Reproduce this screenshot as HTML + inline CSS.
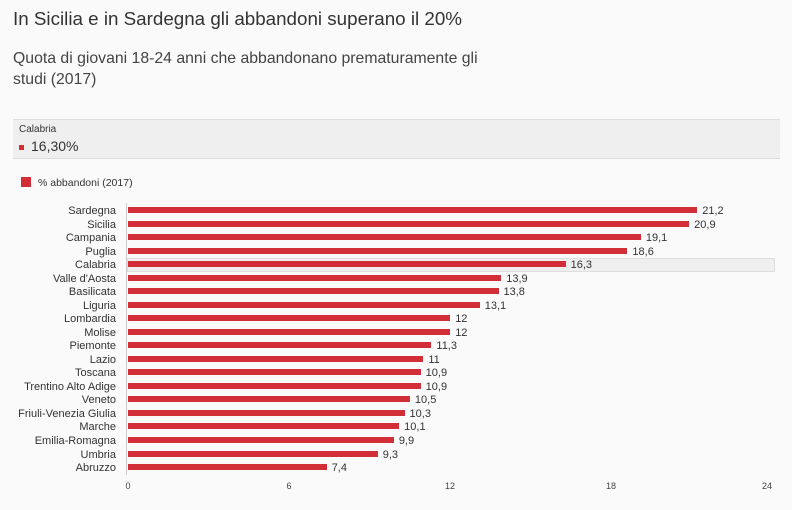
<!DOCTYPE html>
<html><head><meta charset="utf-8"><style>
body{margin:0;width:792px;height:510px;background:#fafafa;font-family:"Liberation Sans",sans-serif;position:relative;overflow:hidden;color:#333}
.t{position:absolute;left:13px;top:8px;font-size:18.8px;color:#333}
.s{position:absolute;left:13px;top:48px;font-size:15.8px;line-height:21px;color:#444;width:490px}
.tip{position:absolute;left:13px;top:119px;width:767px;height:38px;background:#efefef;border-top:1px solid #ddd;border-bottom:1px solid #ddd}
.lab{position:absolute;font-size:11px;color:#333;text-align:right;width:114px;left:2px}
.val{position:absolute;font-size:11px;color:#333}
.bar{position:absolute;left:128px;height:6px;background:#d12e38}
.tk{position:absolute;top:481px;font-size:9px;color:#444;width:30px;text-align:center}
</style></head><body>
<div class="t">In Sicilia e in Sardegna gli abbandoni superano il 20%</div>
<div class="s">Quota di giovani 18-24 anni che abbandonano prematuramente gli studi (2017)</div>
<div class="tip"><div style="position:absolute;left:6px;top:4px;font-size:10px">Calabria</div>
<div style="position:absolute;left:6px;top:25px;width:5px;height:5px;background:#d12e38"></div>
<div style="position:absolute;left:18px;top:18px;font-size:14px">16,30%</div></div>
<div style="position:absolute;left:21px;top:177px;width:10px;height:10px;background:#d12e38"></div>
<div style="position:absolute;left:38px;top:177px;font-size:10.5px">% abbandoni (2017)</div>
<div style="position:absolute;left:127px;top:258px;width:646px;height:12px;background:#efefef;border:1px solid #ddd"></div>
<div style="position:absolute;left:126px;top:203px;width:1px;height:272px;background:#ccc"></div>
<div id="c"></div>
<div class="tk" style="left:113px">0</div><div class="tk" style="left:274px">6</div><div class="tk" style="left:435px">12</div><div class="tk" style="left:596px">18</div><div class="tk" style="left:752px">24</div>
<script>
var d=[["Sardegna",21.2],["Sicilia",20.9],["Campania",19.1],["Puglia",18.6],["Calabria",16.3],["Valle d'Aosta",13.9],["Basilicata",13.8],["Liguria",13.1],["Lombardia",12],["Molise",12],["Piemonte",11.3],["Lazio",11],["Toscana",10.9],["Trentino Alto Adige",10.9],["Veneto",10.5],["Friuli-Venezia Giulia",10.3],["Marche",10.1],["Emilia-Romagna",9.9],["Umbria",9.3],["Abruzzo",7.4]];
var h="";d.forEach(function(r,i){var y=210+i*13.53,w=r[1]*26.85;
h+='<div class="lab" style="top:'+(y-5)+'px">'+r[0]+'</div><div class="bar" style="top:'+(y-3)+'px;width:'+w+'px"></div><div class="val" style="left:'+(128+w+5)+'px;top:'+(y-5)+'px">'+String(r[1]).replace(".",",")+'</div>';});
document.getElementById("c").innerHTML=h;
</script>
</body></html>
